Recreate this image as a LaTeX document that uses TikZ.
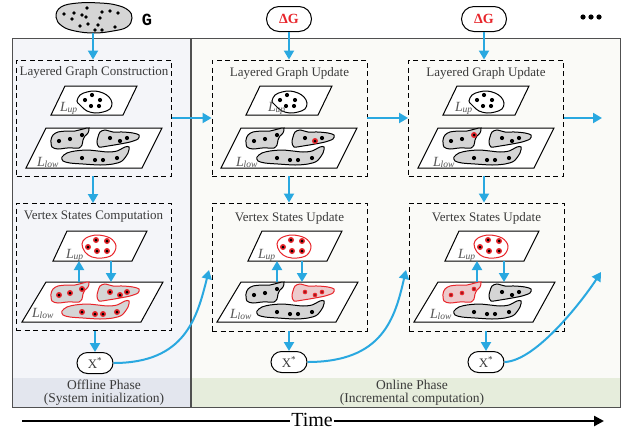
\documentclass[tikz,border=0pt]{standalone}
\usepackage{fontspec}
\setmainfont{Liberation Serif}
\newfontfamily\gfont{Liberation Mono}
\usetikzlibrary{arrows.meta,shapes.misc}
\definecolor{arrowblue}{HTML}{29A8E0}
\definecolor{blobgray}{HTML}{D5D5D5}
\definecolor{hired}{HTML}{E8252B}
\definecolor{pinkfill}{HTML}{EDCACC}
\definecolor{txtgray}{HTML}{3A3A3A}
\definecolor{labgray}{HTML}{555555}
\definecolor{offbg}{HTML}{F4F5F9}
\definecolor{offband}{HTML}{E3E6EE}
\definecolor{onbg}{HTML}{FAFAF7}
\definecolor{onband}{HTML}{E6EDDC}
\definecolor{framegray}{HTML}{505050}
\tikzset{
  arr/.style={draw=arrowblue, line width=2pt, -{Triangle[length=9pt,width=10pt]}},
  timearr/.style={draw=black, line width=2.4pt, -{Triangle[length=10pt,width=10pt]}},
  dashbox/.style={draw=black, line width=0.9pt, dash pattern=on 5pt off 3.5pt, minimum width=155pt, inner sep=0pt},
  para/.style={draw=black, line width=1pt, fill=white, line join=miter},
  gblob/.style={draw=black, line width=1pt, fill=blobgray},
  rblob/.style={draw=hired, line width=1pt, fill=blobgray},
  pblob/.style={draw=hired, line width=1pt, fill=pinkfill},
  wblob/.style={draw=black, line width=1pt, fill=white},
  rwblob/.style={draw=hired, line width=1pt, fill=white},
  titletext/.style={text=txtgray, font=\fontsize{13}{14}\selectfont, inner sep=0pt},
  lab/.style={anchor=base west, inner sep=0pt, text=labgray, font=\fontsize{14}{14}\selectfont},
  xnode/.style={draw=black, line width=1pt, fill=white, rounded rectangle, minimum width=36pt, minimum height=21pt, inner sep=0pt, text=txtgray, font=\fontsize{13}{13}\selectfont},
  dgnode/.style={draw=black, line width=1pt, fill=white, rounded rectangle, minimum width=45pt, minimum height=25pt, inner sep=0pt, text=hired, font=\bfseries\fontsize{14}{14}\selectfont},
  bandtext/.style={text=txtgray, align=center, font=\fontsize{13.5}{13}\selectfont, inner sep=0pt}
}
\newcommand\Lbl[1]{\textit{L}\kern-0.3pt\raisebox{-1.8pt}{\fontsize{9.5}{9.5}\selectfont\textit{#1}}}
\newcommand\LayParas{%
  \draw[para] (-29,86) -- (43,86) -- (29,115) -- (-43,115) -- cycle;
  \draw[para] (-48,128) -- (68,128) -- (48,168) -- (-68,168) -- cycle;}
\newcommand\VSParas{%
  \draw[para] (-27,231) -- (53,231) -- (38,261) -- (-41,261) -- cycle;
  \draw[para] (-48,282) -- (69,282) -- (47,322) -- (-72,322) -- cycle;}
\newcommand\UpBlob[1]{\path[#1] plot[smooth cycle,tension=0.6] coordinates {(-17,101)(-14,95)(-7,92)(1,91)(9,93)(15,97)(18,103)(16,109)(9,112)(1,113)(-7,111)(-12,107)(-15,104)};}
\newcommand\VSUpBlob[1]{\path[#1] plot[smooth cycle,tension=0.6] coordinates {(-12,244)(-8,238)(3,235)(16,238)(22,246)(18,255)(8,258)(-2,257)(-9,252)};}
\newcommand\BlobA[1]{\path[#1] plot[smooth cycle,tension=0.5] coordinates {(-43,140)(-41,135)(-36,132)(-27,131)(-19,131)(-11,129)(-5,128)(-6,133)(-9,136)(-11,140)(-12,145)(-15,148)(-21,148)(-27,148)(-36,149)(-42,147)};}
\newcommand\BlobB[1]{\path[#1] plot[smooth cycle,tension=0.5] coordinates {(6,132)(11,130)(19,132)(29,132)(39,133)(45,135)(44,139)(36,142)(26,144)(14,146)(5,147)(3,142)(4,137)};}
\newcommand\BlobC[1]{\path[#1] plot[smooth cycle,tension=0.5] coordinates {(-32,157)(-27,153)(-19,151)(-7,150)(4,151)(14,152)(23,151)(31,147)(35,147)(34,153)(28,161)(19,164)(6,165)(-11,164)(-24,163)(-31,161)};}
\newcommand\dB[2]{\fill (#1,#2) circle (2.1pt);}
\newcommand\dR[2]{\fill[hired] (#1,#2) circle (3pt); \fill (#1,#2) circle (1.5pt);}
\newcommand\dS[2]{\fill[hired] (#1,#2) circle (2.3pt); \fill[black!60!hired] (#1,#2) circle (0.9pt);}
\newcommand\UpDots[1]{#1{-2}{95}#1{-9}{100}#1{6}{100}#1{-3}{106}#1{5}{106}}
\newcommand\VSUpDots[1]{#1{2}{240}#1{13}{241}#1{-6}{247}#1{3}{251}#1{13}{251}}
\newcommand\ADots[1]{#1{-35}{141}#1{-24}{139}#1{-12}{135}}
\newcommand\BDots[1]{#1{16}{138}#1{26}{141}#1{33}{138}}
\newcommand\CDots[1]{#1{-12}{158}#1{1}{160}#1{9}{160}#1{23}{158}}
\begin{document}
\begin{tikzpicture}[x=1pt,y=-1pt]
\useasboundingbox (0,0) rectangle (623,432);
% frames
\fill[offbg] (12,38) rectangle (191,407);
\fill[offband] (12,378) rectangle (191,407);
\fill[onbg] (191,38) rectangle (620,407);
\fill[onband] (191,378) rectangle (620,407);
\draw[framegray, line width=1pt] (12,38) rectangle (620,407);
\draw[framegray, line width=1.8pt] (191,38) -- (191,407);
\node[bandtext] (offtxt) at (104,392.5) {Offline Phase\\(System initialization)};
\node[bandtext] (ontxt) at (412,392.5) {Online Phase\\(Incremental computation)};
% G graph
\draw[gblob] plot[smooth cycle, tension=0.7] coordinates {(56,17)(61,7)(78,3)(100,3)(116,5)(128,10)(132,18)(127,27)(113,31)(94,33)(75,31)(62,26)};
\foreach \px/\py in {64/14,74/13,82/15,87/8,102/12,100/18,110/11,118/13,72/19,80/26,88/24,98/25,95/30,102/30,115/27,86/17}
  \fill (\px,\py) circle (1.9pt);
\coordinate (gbot) at (93,33);
\node[font=\gfont\bfseries\fontsize{17}{17}\selectfont, inner sep=0pt] (glabel) at (147,20) {G};
% dots
\foreach \i in {0,1,2} \fill (583+\i*8,17) circle (2.6pt);
% delta G nodes
\node[dgnode] (dg1) at (289,19) {ΔG};
\node[dgnode] (dg2) at (484,19) {ΔG};
% dashed boxes
\node[dashbox, minimum height=116pt] (lgc) at (94,118) {};
\node[dashbox, minimum height=127pt] (vsc) at (93.5,267) {};
\node[dashbox, minimum height=116pt] (lgu1) at (289.5,118) {};
\node[dashbox, minimum height=128pt] (vsu1) at (289.5,267) {};
\node[dashbox, minimum height=116pt] (lgu2) at (486,118) {};
\node[dashbox, minimum height=128pt] (vsu2) at (486.5,267) {};
\node[titletext] (t0) at (94,72) {Layered Graph Construction};
\node[titletext] (t1) at (93.5,217) {Vertex States Computation};
\node[titletext] (t2) at (289.5,73) {Layered Graph Update};
\node[titletext] (t3) at (289.5,218) {Vertex States Update};
\node[titletext] (t4) at (486,73) {Layered Graph Update};
\node[titletext] (t5) at (486.5,218) {Vertex States Update};
% X* nodes
\node[xnode] (xs0) at (95,363) {X\textsuperscript{*}};
\node[xnode] (xs1) at (289,362) {X\textsuperscript{*}};
\node[xnode] (xs2) at (486,362) {X\textsuperscript{*}};
% ---------- offline column ----------
\begin{scope}[shift={(94,0)}]
  \LayParas
  \UpBlob{wblob}\UpDots\dB
  \BlobA{gblob}\ADots\dB
  \BlobB{gblob}\BDots\dB
  \BlobC{gblob}\CDots\dB
  \node[lab] (lu0) at (-34,111) {\Lbl{up}};
  \node[lab] (ll0) at (-57,166) {\Lbl{low}};
  \VSParas
  \VSUpBlob{rwblob}\VSUpDots\dR
  \node[lab] (vlu0) at (-28,258) {\Lbl{up}};
  \begin{scope}[shift={(0,154)}]
    \BlobA{rblob}\ADots\dR
    \BlobB{rblob}\BDots\dR
    \BlobC{rblob}\CDots\dR
  \end{scope}
  \node[lab] (vll0) at (-62,317) {\Lbl{low}};
  \coordinate (ua0) at (-15,282); \coordinate (ub0) at (-15,261);
  \coordinate (da0) at (17,261);  \coordinate (db0) at (17,282);
\end{scope}
% ---------- online column 1 ----------
\begin{scope}[shift={(289,0)}]
  \LayParas
  \UpBlob{wblob}\UpDots\dB
  \BlobA{gblob}\ADots\dB
  \BlobB{gblob}\dB{16}{138}\dR{26}{141}\dB{33}{138}
  \BlobC{gblob}\CDots\dB
  \node[lab] (lu1) at (-21,111) {\Lbl{up}};
  \node[lab] (ll1) at (-53,166) {\Lbl{low}};
  \VSParas
  \VSUpBlob{rwblob}\VSUpDots\dR
  \node[lab] (vlu1) at (-31,258) {\Lbl{up}};
  \begin{scope}[shift={(0,154)}]
    \BlobA{gblob}\ADots\dB
    \BlobB{pblob}\BDots\dS
    \BlobC{gblob}\CDots\dB
  \end{scope}
  \node[lab] (vll1) at (-59,318) {\Lbl{low}};
  \coordinate (ua1) at (-12,282); \coordinate (ub1) at (-12,261);
  \coordinate (da1) at (13,261);  \coordinate (db1) at (13,282);
\end{scope}
% ---------- online column 2 ----------
\begin{scope}[shift={(486,0)}]
  \LayParas
  \UpBlob{wblob}\UpDots\dB
  \BlobA{gblob}\dB{-35}{141}\dB{-24}{139}\dR{-12}{135}
  \BlobB{gblob}\BDots\dB
  \BlobC{gblob}\CDots\dB
  \node[lab] (lu2) at (-31,111) {\Lbl{up}};
  \node[lab] (ll2) at (-53,166) {\Lbl{low}};
  \VSParas
  \VSUpBlob{rwblob}\VSUpDots\dR
  \node[lab] (vlu2) at (-28,258) {\Lbl{up}};
  \begin{scope}[shift={(0,154)}]
    \BlobA{pblob}\ADots\dS
    \BlobB{gblob}\BDots\dB
    \BlobC{gblob}\CDots\dB
  \end{scope}
  \node[lab] (vll2) at (-56,318) {\Lbl{low}};
  \coordinate (ua2) at (-9,282); \coordinate (ub2) at (-9,261);
  \coordinate (da2) at (18,261);  \coordinate (db2) at (18,282);
\end{scope}
% ---------- connectors ----------
\draw[arr] (gbot) -- (gbot |- lgc.north);
\draw[arr] (lgc.south -| gbot) -- (vsc.north -| gbot);
\draw[arr] (xs0.north |- vsc.south) -- (xs0.north);
\draw[arr] (ua0) -- (ub0);
\draw[arr] (da0) -- (db0);
\draw[arr] (lgc.east) -- (lgu1.west);
\coordinate (c0) at (209,270);
\draw[arr] (xs0.east) .. controls (185,363) and (197,318) .. (c0);

\draw[arr] (dg1.south) -- (dg1.south |- lgu1.north);
\draw[arr] (lgu1.south -| dg1.south) -- (vsu1.north -| dg1.south);
\draw[arr] (xs1.north |- vsu1.south) -- (xs1.north);
\draw[arr] (ua1) -- (ub1);
\draw[arr] (da1) -- (db1);
\draw[arr] (lgu1.east) -- (lgu2.west);
\coordinate (c1) at (406,270);
\draw[arr] (xs1.east) .. controls (383,362) and (395,318) .. (c1);

\draw[arr] (dg2.south) -- (dg2.south |- lgu2.north);
\draw[arr] (lgu2.south -| dg2.south) -- (vsu2.north -| dg2.south);
\draw[arr] (xs2.north |- vsu2.south) -- (xs2.north);
\draw[arr] (ua2) -- (ub2);
\draw[arr] (da2) -- (db2);
\coordinate (c3) at (602,118);
\draw[arr] (lgu2.east) -- (c3);
\coordinate (c2) at (601,272);
\draw[arr] (xs2.east) .. controls (537,361) and (585,297) .. (c2);
% time axis
\coordinate (ts) at (22,421);
\coordinate (te) at (604,421);
\draw[timearr] (ts) -- (te);
\node[fill=white, inner sep=1.5pt, anchor=base, font=\fontsize{20}{20}\selectfont] (time) at (312,426) {Time};
\end{tikzpicture}
\end{document}
